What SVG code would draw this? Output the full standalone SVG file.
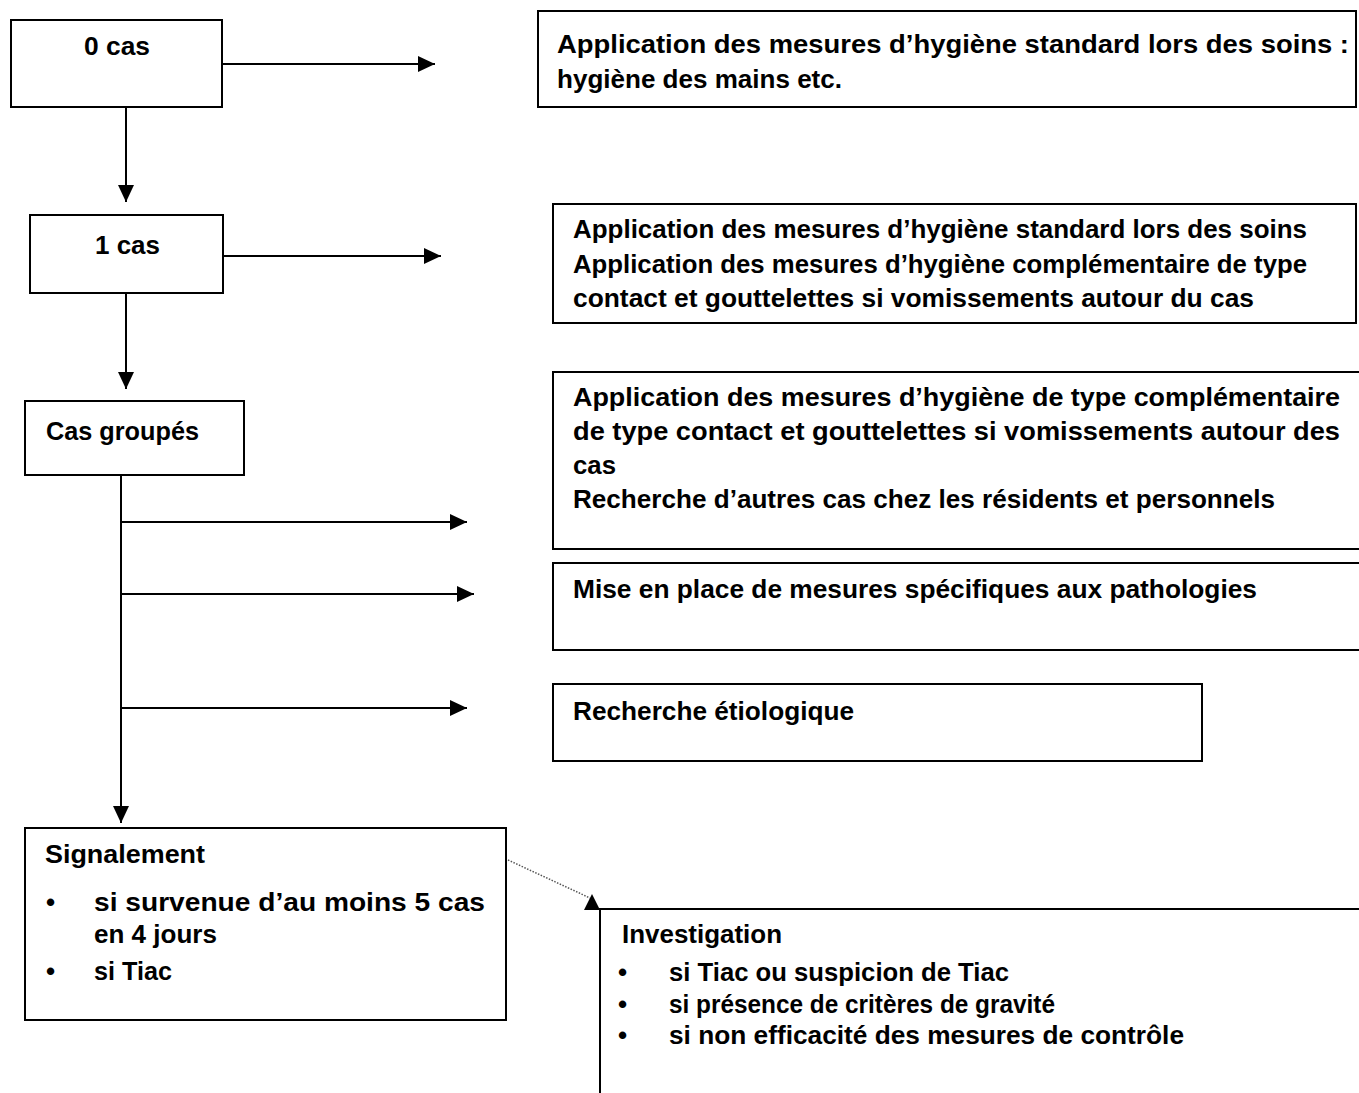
<svg xmlns="http://www.w3.org/2000/svg" width="1359" height="1093" viewBox="0 0 1359 1093">
<defs>
<style>
.box{fill:#fff;stroke:#000;stroke-width:2}
.t{font-family:"Liberation Sans",Arial,sans-serif;font-size:26px;font-weight:bold;fill:#000}
.ln{stroke:#000;stroke-width:2;fill:none}
.dot{stroke:#555;stroke-width:1.5;stroke-dasharray:1.5 1.5;fill:none}
</style>
<marker id="ah" markerUnits="userSpaceOnUse" markerWidth="18" markerHeight="16" refX="17" refY="8" orient="auto">
<path d="M0,0 L17,8 L0,16 Z" fill="#000"/>
</marker>
</defs>
<rect width="1359" height="1093" fill="#fff"/>
<g id="connectors">
<line class="ln" x1="222" y1="64" x2="435" y2="64" marker-end="url(#ah)"/>
<line class="ln" x1="126" y1="107" x2="126" y2="202" marker-end="url(#ah)"/>
<line class="ln" x1="223" y1="256" x2="441" y2="256" marker-end="url(#ah)"/>
<line class="ln" x1="126" y1="293" x2="126" y2="389" marker-end="url(#ah)"/>
<line class="ln" x1="121" y1="475" x2="121" y2="823" marker-end="url(#ah)"/>
<line class="ln" x1="121" y1="522" x2="467" y2="522" marker-end="url(#ah)"/>
<line class="ln" x1="121" y1="594" x2="474" y2="594" marker-end="url(#ah)"/>
<line class="ln" x1="121" y1="708" x2="467" y2="708" marker-end="url(#ah)"/>
<line class="dot" x1="508" y1="860" x2="590" y2="898"/>
<polygon points="592,894 584,910 600,910" fill="#000"/>
</g>
<g id="n0cas">
<rect class="box" x="11" y="20" width="211" height="87"/>
<text class="t" x="84" y="55" textLength="66" lengthAdjust="spacingAndGlyphs">0 cas</text>
</g>
<g id="r1">
<rect class="box" x="538" y="11" width="818" height="96"/>
<text class="t" x="557" y="53" textLength="792" lengthAdjust="spacingAndGlyphs">Application des mesures d’hygiène standard lors des soins :</text>
<text class="t" x="557" y="88" textLength="285" lengthAdjust="spacingAndGlyphs">hygiène des mains etc.</text>
</g>
<g id="n1cas">
<rect class="box" x="30" y="215" width="193" height="78"/>
<text class="t" x="95" y="254" textLength="65" lengthAdjust="spacingAndGlyphs">1 cas</text>
</g>
<g id="r2">
<rect class="box" x="553" y="204" width="803" height="119"/>
<text class="t" x="573" y="238" textLength="734" lengthAdjust="spacingAndGlyphs">Application des mesures d’hygiène standard lors des soins</text>
<text class="t" x="573" y="273" textLength="734" lengthAdjust="spacingAndGlyphs">Application des mesures d’hygiène complémentaire de type</text>
<text class="t" x="573" y="307" textLength="681" lengthAdjust="spacingAndGlyphs">contact et gouttelettes si vomissements autour du cas</text>
</g>
<g id="ncasgroupes">
<rect class="box" x="25" y="401" width="219" height="74"/>
<text class="t" x="46" y="440" textLength="153" lengthAdjust="spacingAndGlyphs">Cas groupés</text>
</g>
<g id="r3">
<rect class="box" x="553" y="372" width="820" height="177"/>
<text class="t" x="573" y="406" textLength="767" lengthAdjust="spacingAndGlyphs">Application des mesures d’hygiène de type complémentaire</text>
<text class="t" x="573" y="440" textLength="767" lengthAdjust="spacingAndGlyphs">de type contact et gouttelettes si vomissements autour des</text>
<text class="t" x="573" y="474" textLength="43" lengthAdjust="spacingAndGlyphs">cas</text>
<text class="t" x="573" y="508" textLength="702" lengthAdjust="spacingAndGlyphs">Recherche d’autres cas chez les résidents et personnels</text>
</g>
<g id="r4">
<rect class="box" x="553" y="563" width="820" height="87"/>
<text class="t" x="573" y="598" textLength="684" lengthAdjust="spacingAndGlyphs">Mise en place de mesures spécifiques aux pathologies</text>
</g>
<g id="r5">
<rect class="box" x="553" y="684" width="649" height="77"/>
<text class="t" x="573" y="720" textLength="281" lengthAdjust="spacingAndGlyphs">Recherche étiologique</text>
</g>
<g id="signalement">
<rect class="box" x="25" y="828" width="481" height="192"/>
<text class="t" x="45" y="863" textLength="160" lengthAdjust="spacingAndGlyphs">Signalement</text>
<text class="t" x="46" y="911">•</text>
<text class="t" x="94" y="911" textLength="391" lengthAdjust="spacingAndGlyphs">si survenue d’au moins 5 cas</text>
<text class="t" x="94" y="943" textLength="123" lengthAdjust="spacingAndGlyphs">en 4 jours</text>
<text class="t" x="46" y="980">•</text>
<text class="t" x="94" y="980" textLength="78" lengthAdjust="spacingAndGlyphs">si Tiac</text>
</g>
<g id="investigation">
<rect class="box" x="600" y="909" width="800" height="250"/>
<text class="t" x="622" y="943" textLength="160" lengthAdjust="spacingAndGlyphs">Investigation</text>
<text class="t" x="618" y="981">•</text>
<text class="t" x="669" y="981" textLength="340" lengthAdjust="spacingAndGlyphs">si Tiac ou suspicion de Tiac</text>
<text class="t" x="618" y="1013">•</text>
<text class="t" x="669" y="1013" textLength="386" lengthAdjust="spacingAndGlyphs">si présence de critères de gravité</text>
<text class="t" x="618" y="1044">•</text>
<text class="t" x="669" y="1044" textLength="515" lengthAdjust="spacingAndGlyphs">si non efficacité des mesures de contrôle</text>
</g>
</svg>
